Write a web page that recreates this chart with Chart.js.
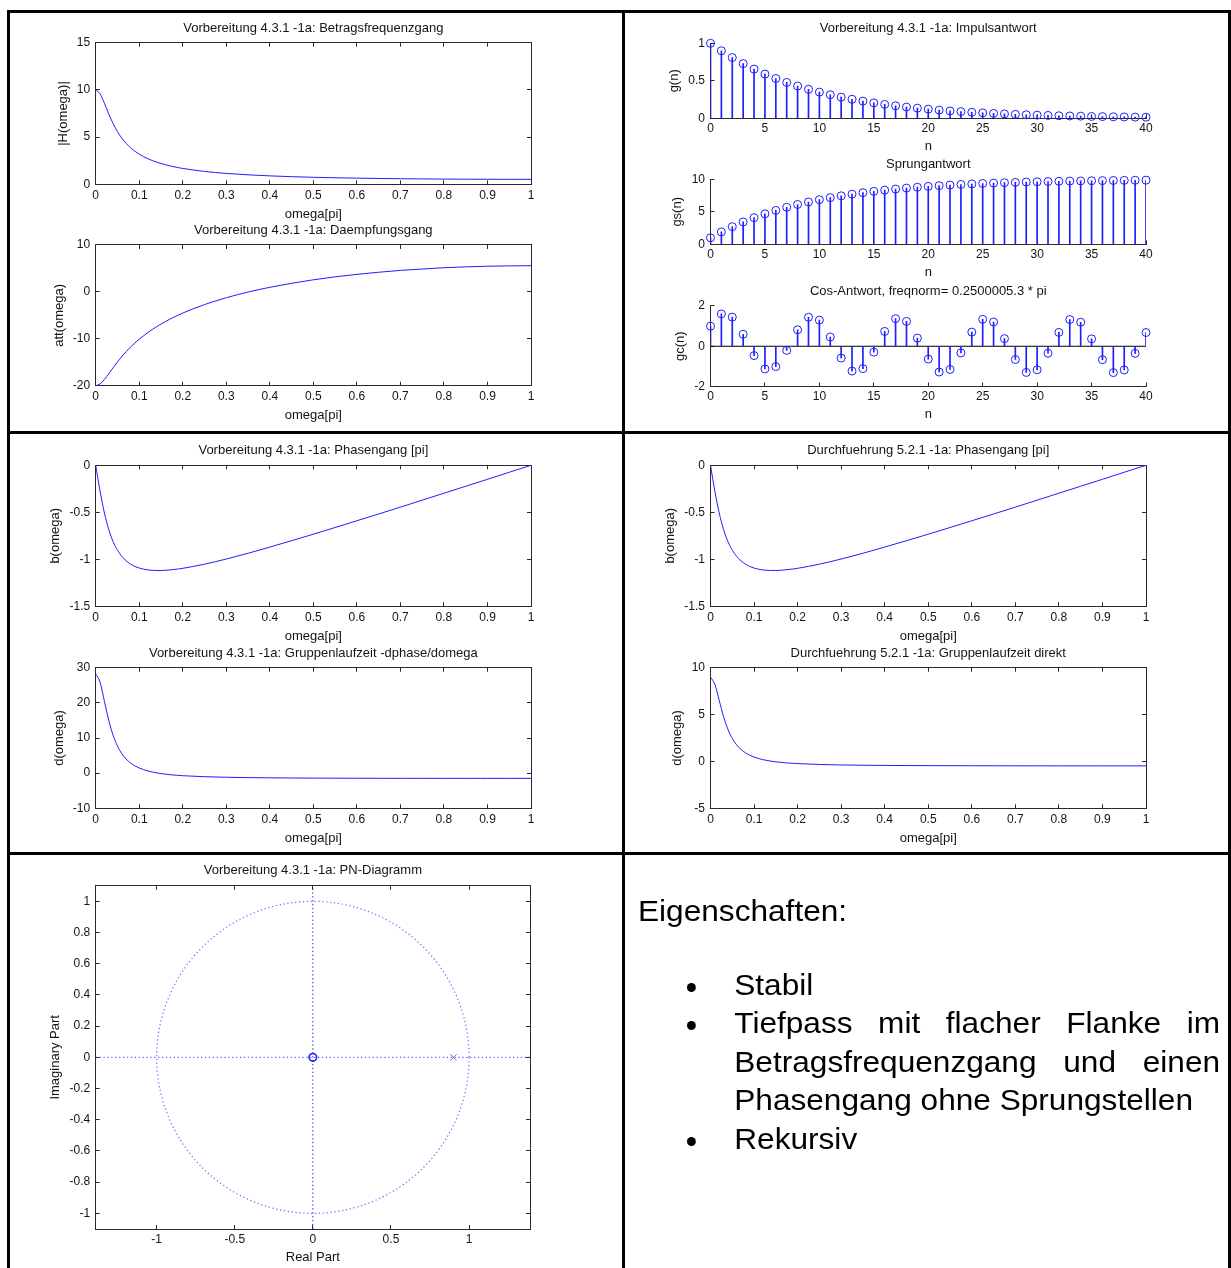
<!DOCTYPE html>
<html>
<head>
<meta charset="utf-8">
<script src="https://cdn.jsdelivr.net/npm/chart.js@4.4.1/dist/chart.umd.min.js"></script>
<style>
  html, body { margin: 0; padding: 0; background: #fff; }
  #page { position: relative; width: 1231px; height: 1268px; overflow: hidden; background: #fff; }
  .rule { position: absolute; background: #000; }
  canvas { position: absolute; }
  #notes { position: absolute; left: 638px; top: 0; width: 534px; transform: scaleX(1.09); transform-origin: 0 0;
           font-family: 'Liberation Sans', Arial, sans-serif; font-size: 29px; line-height: 38.5px; color: #000; }
  #notes .head { position: absolute; left: 0; top: 891.9px; white-space: nowrap; }
  #notes ul { position: absolute; left: 0; top: 965.6px; width: 534px; margin: 0; padding: 0; list-style: none; }
  #notes li { position: relative; padding-left: 88.3px; text-align: justify; }
  #notes li::before { content: ''; position: absolute; left: 44.5px; top: 17px; width: 8.5px; height: 9px;
                      border-radius: 50%; background: #000; }
</style>
</head>
<body>
<div id="page">
  <div class="rule" style="left:7px; top:10px; width:1224px; height:3px"></div>
  <div class="rule" style="left:7px; top:431px; width:1224px; height:3px"></div>
  <div class="rule" style="left:7px; top:852px; width:1224px; height:3px"></div>
  <div class="rule" style="left:7px; top:10px; width:3px; height:1258px"></div>
  <div class="rule" style="left:622px; top:10px; width:3px; height:1258px"></div>
  <div class="rule" style="left:1228px; top:10px; width:3px; height:1258px"></div>

  <div id="notes">
    <div class="head">Eigenschaften:</div>
    <ul>
      <li>Stabil</li>
      <li>Tiefpass mit flacher Flanke im Betragsfrequenzgang und einen Phasengang ohne Sprungstellen</li>
      <li>Rekursiv</li>
    </ul>
  </div>
</div>

<script>
// frequency grid (omega in units of pi)
const omega = [0, 0.01, 0.02, 0.03, 0.04, 0.05, 0.06, 0.07, 0.08, 0.09, 0.1, 0.11, 0.12, 0.13, 0.14, 0.15,
  0.16, 0.17, 0.18, 0.19, 0.2, 0.25, 0.3, 0.35, 0.4, 0.45, 0.5, 0.55, 0.6, 0.65, 0.7, 0.75, 0.8, 0.85, 0.9, 0.95, 1];

const betrag = [10, 9.583, 8.59, 7.456, 6.429, 5.576, 4.886, 4.33, 3.876, 3.503, 3.193, 2.931, 2.708, 2.515,
  2.348, 2.202, 2.073, 1.959, 1.856, 1.764, 1.681, 1.364, 1.153, 1.004, 0.893, 0.809, 0.743, 0.691, 0.65,
  0.617, 0.59, 0.57, 0.553, 0.541, 0.533, 0.528, 0.526];

const daempfung = [-20, -19.63, -18.68, -17.45, -16.16, -14.93, -13.78, -12.73, -11.77, -10.89, -10.08, -9.34,
  -8.65, -8.01, -7.41, -6.86, -6.33, -5.84, -5.37, -4.93, -4.51, -2.7, -1.24, -0.03, 0.98, 1.84, 2.58, 3.21,
  3.74, 4.19, 4.58, 4.88, 5.15, 5.34, 5.47, 5.55, 5.58];

const phaseVorb = [0, -0.274, -0.507, -0.683, -0.812, -0.903, -0.969, -1.016, -1.051, -1.076, -1.093, -1.105,
  -1.113, -1.117, -1.119, -1.119, -1.117, -1.113, -1.108, -1.103, -1.096, -1.052, -0.997, -0.936, -0.87,
  -0.802, -0.733, -0.662, -0.59, -0.518, -0.445, -0.371, -0.297, -0.223, -0.149, -0.074, 0];

const phaseDurch = [0, -0.274, -0.507, -0.683, -0.812, -0.903, -0.969, -1.016, -1.051, -1.076, -1.093, -1.105,
  -1.113, -1.117, -1.119, -1.119, -1.117, -1.113, -1.108, -1.103, -1.096, -1.052, -0.997, -0.936, -0.87,
  -0.802, -0.733, -0.662, -0.59, -0.518, -0.445, -0.371, -0.297, -0.223, -0.149, -0.074, 0];

const gruppeVorb = [28.27, 25.84, 20.45, 15.02, 10.77, 7.71, 5.55, 4.02, 2.91, 2.09, 1.47, 0.99, 0.62, 0.32,
  0.08, -0.12, -0.29, -0.43, -0.54, -0.64, -0.73, -1.01, -1.17, -1.27, -1.33, -1.38, -1.41, -1.43, -1.45,
  -1.46, -1.47, -1.47, -1.48, -1.48, -1.49, -1.49, -1.49];

const gruppeDurch = [9, 8.225, 6.51, 4.781, 3.427, 2.454, 1.768, 1.281, 0.927, 0.666, 0.468, 0.316, 0.196,
  0.101, 0.024, -0.039, -0.092, -0.136, -0.173, -0.204, -0.231, -0.323, -0.374, -0.404, -0.424, -0.438,
  -0.448, -0.455, -0.46, -0.464, -0.467, -0.469, -0.471, -0.472, -0.473, -0.474, -0.474];

// sample index n
const nIdx = [0, 1, 2, 3, 4, 5, 6, 7, 8, 9, 10, 11, 12, 13, 14, 15, 16, 17, 18, 19, 20,
  21, 22, 23, 24, 25, 26, 27, 28, 29, 30, 31, 32, 33, 34, 35, 36, 37, 38, 39, 40];

const impuls = [1, 0.9, 0.81, 0.729, 0.656, 0.59, 0.531, 0.478, 0.43, 0.387, 0.349, 0.314, 0.282, 0.254,
  0.229, 0.206, 0.185, 0.167, 0.15, 0.135, 0.122, 0.109, 0.098, 0.089, 0.08, 0.072, 0.065, 0.058, 0.052,
  0.047, 0.042, 0.038, 0.034, 0.031, 0.028, 0.025, 0.023, 0.02, 0.018, 0.016, 0.015];

const sprung = [1, 1.9, 2.71, 3.439, 4.095, 4.686, 5.217, 5.695, 6.126, 6.513, 6.862, 7.176, 7.458, 7.712,
  7.941, 8.147, 8.332, 8.499, 8.649, 8.784, 8.906, 9.015, 9.114, 9.202, 9.282, 9.354, 9.419, 9.477, 9.529,
  9.576, 9.618, 9.657, 9.691, 9.722, 9.75, 9.775, 9.797, 9.818, 9.836, 9.852, 9.867];

const cosAntwort = [1, 1.607, 1.446, 0.594, -0.465, -1.126, -1.013, -0.205, 0.816, 1.441, 1.297, 0.46,
  -0.586, -1.234, -1.111, -0.293, 0.736, 1.37, 1.233, 0.403, -0.638, -1.281, -1.153, -0.331, 0.702, 1.339,
  1.205, 0.378, -0.66, -1.301, -1.171, -0.347, 0.688, 1.326, 1.194, 0.367, -0.669, -1.309, -1.178, -0.353, 0.682];
const cosBaseline = [{ x: 0, y: 0 }, { x: 40, y: 0 }];

// pole-zero plot
const pnZeros = [{ x: 0, y: 0 }];
const pnPoles = [{ x: 0.9, y: 0 }];
const pnRealAxis = [{ x: -1.39, y: 0 }, { x: 1.39, y: 0 }];
const pnImagAxis = [{ x: 0, y: -1.1 }, { x: 0, y: 1.1 }];
const pnCircle = { cx: 0, cy: 0, r: 1 };

// tick labels
const omegaTicks = [0, 0.1, 0.2, 0.3, 0.4, 0.5, 0.6, 0.7, 0.8, 0.9, 1];
const nTicks = [0, 5, 10, 15, 20, 25, 30, 35, 40];
const betragTicks = [0, 5, 10, 15];
const daempfungTicks = [-20, -10, 0, 10];
const phaseTicks = [-1.5, -1, -0.5, 0];
const gruppeVorbTicks = [-10, 0, 10, 20, 30];
const gruppeDurchTicks = [-5, 0, 5, 10];
const impulsTicks = [0, 0.5, 1];
const sprungTicks = [0, 5, 10];
const cosTicks = [-2, 0, 2];
const reTicks = [-1, -0.5, 0, 0.5, 1];
const imTicks = [-1, -0.8, -0.6, -0.4, -0.2, 0, 0.2, 0.4, 0.6, 0.8, 1];

const FONT = "'Liberation Sans', Arial, Helvetica, sans-serif";
const TXT = '#141414';
const AXC = '#2a2a2a';
const BLUE = 'rgb(30,30,255)';
const TICK_PX = 12;
const LABEL_PX = 13;

Chart.defaults.font.family = FONT;

const pts = (xs, ys) => xs.map((x, i) => ({ x, y: ys[i] }));
const fmt = (v) => String(Math.round(v * 1000) / 1000);

function curve(xs, ys) {
  return { type: 'line', data: pts(xs, ys), borderColor: BLUE, borderWidth: 1, pointRadius: 0,
           cubicInterpolationMode: 'monotone', fill: false };
}

function stems(xs, ys) {
  return [
    { type: 'line', data: pts(xs, ys), showLine: false, pointStyle: 'circle', pointRadius: 4,
      pointBorderColor: BLUE, pointBackgroundColor: 'rgba(0,0,0,0)', pointBorderWidth: 1, clip: false, order: 0 },
    { type: 'bar', data: pts(xs, ys), backgroundColor: BLUE, barThickness: 1, order: 1 },
  ];
}

const unitCircle = {
  id: 'unitCircle',
  beforeDatasetsDraw(chart) {
    const { ctx, scales: { x, y } } = chart;
    const cx = x.getPixelForValue(pnCircle.cx);
    const cy = y.getPixelForValue(pnCircle.cy);
    const rx = x.getPixelForValue(pnCircle.cx + pnCircle.r) - cx;
    const ry = cy - y.getPixelForValue(pnCircle.cy + pnCircle.r);
    ctx.save();
    ctx.strokeStyle = 'rgba(60,60,255,0.75)';
    ctx.lineWidth = 1.2;
    ctx.setLineDash([1.3, 2.6]);
    ctx.beginPath();
    ctx.ellipse(cx, cy, rx, ry, 0, 0, Math.PI * 2);
    ctx.stroke();
    ctx.restore();
  }
};

const page = document.getElementById('page');

function plot(p) {
  const lh = LABEL_PX * 1.2;
  const titleY = p.box.t - (p.titleGap || 14.5);
  const xLabY = p.box.b + p.xLabGap;
  const left = Math.floor(p.yLabX - lh / 2 - 3);
  const top = Math.floor(titleY - lh / 2 - 2);
  const bottom = Math.ceil(xLabY + lh / 2 + 3);
  const right = Math.ceil(p.box.r + 22);

  const cv = document.createElement('canvas');
  cv.width = right - left;
  cv.height = bottom - top;
  cv.style.left = left + 'px';
  cv.style.top = top + 'px';
  cv.style.width = cv.width + 'px';
  cv.style.height = cv.height + 'px';
  page.appendChild(cv);

  const ML = p.box.l - left;
  const MB = bottom - p.box.b;
  const setTicks = (list) => (s) => { s.ticks = list.map((v) => ({ value: v })); };
  const grid = { drawOnChartArea: false, drawTicks: true, tickLength: -4, color: AXC, lineWidth: 1, offset: false };
  const border = { display: true, color: AXC, width: 1 };
  const tickFont = { family: FONT, size: TICK_PX };
  const labelFont = { family: FONT, size: LABEL_PX };

  const scales = {
    x: {
      type: 'linear', position: 'bottom', offset: false, min: p.x.min, max: p.x.max,
      afterBuildTicks: setTicks(p.x.ticks), afterFit: (s) => { s.height = MB; },
      ticks: { color: TXT, font: tickFont, padding: p.xPad, maxRotation: 0, autoSkip: false, callback: fmt },
      grid, border,
      title: { display: true, text: p.xLabel, color: TXT, font: labelFont, padding: { top: 0, bottom: 3 } },
    },
    y: {
      type: 'linear', position: 'left', min: p.y.min, max: p.y.max,
      afterBuildTicks: setTicks(p.y.ticks), afterFit: (s) => { s.width = ML; },
      ticks: { color: TXT, font: tickFont, padding: 9.5, autoSkip: false, callback: fmt },
      grid, border,
      title: { display: true, text: p.yLabel, color: TXT, font: labelFont,
               padding: { top: p.yLabX - lh / 2 - left, bottom: 0 } },
    },
  };
  if (p.boxed) {
    scales.x2 = {
      type: 'linear', position: 'top', offset: false, min: p.x.min, max: p.x.max,
      afterBuildTicks: setTicks(p.x.ticks), afterFit: (s) => { s.height = 0; },
      ticks: { display: false, autoSkip: false }, grid, border,
    };
    scales.y2 = {
      type: 'linear', position: 'right', min: p.y.min, max: p.y.max,
      afterBuildTicks: setTicks(p.y.ticks), afterFit: (s) => { s.width = 0; },
      ticks: { display: false, autoSkip: false }, grid, border,
    };
  }

  new Chart(cv, {
    type: 'line',
    data: { datasets: p.datasets },
    options: {
      responsive: false,
      animation: false,
      events: [],
      layout: { padding: { left: 0, right: right - p.box.r, top: titleY - lh / 2 - top, bottom: 0 } },
      plugins: {
        legend: { display: false },
        tooltip: { enabled: false },
        title: {
          display: true, text: p.title, fullSize: false, color: TXT,
          font: { family: FONT, size: LABEL_PX, weight: 'normal' },
          padding: { top: 0, bottom: p.box.t - titleY - lh / 2 },
        },
      },
      scales,
    },
    plugins: p.plugins || [],
  });
}

const L = 95.7, R = 531, RL = 710.5, RR = 1146;

plot({ box: { l: L, t: 42.7, r: R, b: 184.3 }, yLabX: 63, xPad: 8.1, xLabGap: 29, boxed: true,
  title: 'Vorbereitung 4.3.1 -1a: Betragsfrequenzgang', xLabel: 'omega[pi]', yLabel: '|H(omega)|',
  x: { min: 0, max: 1, ticks: omegaTicks }, y: { min: 0, max: 15, ticks: betragTicks },
  datasets: [curve(omega, betrag)] });

plot({ box: { l: L, t: 245, r: R, b: 385.7 }, yLabX: 59, xPad: 8.1, xLabGap: 29, boxed: true,
  title: 'Vorbereitung 4.3.1 -1a: Daempfungsgang', xLabel: 'omega[pi]', yLabel: 'att(omega)',
  x: { min: 0, max: 1, ticks: omegaTicks }, y: { min: -20, max: 10, ticks: daempfungTicks },
  datasets: [curve(omega, daempfung)] });

plot({ box: { l: L, t: 465.3, r: R, b: 606.3 }, yLabX: 55.6, xPad: 8.1, xLabGap: 29, boxed: true,
  title: 'Vorbereitung 4.3.1 -1a: Phasengang [pi]', xLabel: 'omega[pi]', yLabel: 'b(omega)',
  x: { min: 0, max: 1, ticks: omegaTicks }, y: { min: -1.5, max: 0, ticks: phaseTicks },
  datasets: [curve(omega, phaseVorb)] });

plot({ box: { l: L, t: 667.7, r: R, b: 808.3 }, yLabX: 59, xPad: 8.1, xLabGap: 29, boxed: true,
  title: 'Vorbereitung 4.3.1 -1a: Gruppenlaufzeit -dphase/domega', xLabel: 'omega[pi]', yLabel: 'd(omega)',
  x: { min: 0, max: 1, ticks: omegaTicks }, y: { min: -10, max: 30, ticks: gruppeVorbTicks },
  datasets: [curve(omega, gruppeVorb)] });

plot({ box: { l: RL, t: 43.3, r: RR, b: 118.3 }, yLabX: 674.5, xPad: 6.8, xLabGap: 27.5, titleGap: 15,
  title: 'Vorbereitung 4.3.1 -1a: Impulsantwort', xLabel: 'n', yLabel: 'g(n)',
  x: { min: 0, max: 40, ticks: nTicks }, y: { min: 0, max: 1, ticks: impulsTicks },
  datasets: stems(nIdx, impuls) });

plot({ box: { l: RL, t: 179.3, r: RR, b: 244.3 }, yLabX: 677.7, xPad: 6.8, xLabGap: 27.5,
  title: 'Sprungantwort', xLabel: 'n', yLabel: 'gs(n)',
  x: { min: 0, max: 40, ticks: nTicks }, y: { min: 0, max: 10, ticks: sprungTicks },
  datasets: stems(nIdx, sprung) });

plot({ box: { l: RL, t: 306, r: RR, b: 386.5 }, yLabX: 680.3, xPad: 6.8, xLabGap: 27.5,
  title: 'Cos-Antwort, freqnorm= 0.2500005.3 * pi', xLabel: 'n', yLabel: 'gc(n)',
  x: { min: 0, max: 40, ticks: nTicks }, y: { min: -2, max: 2, ticks: cosTicks },
  datasets: [...stems(nIdx, cosAntwort),
    { type: 'line', data: cosBaseline, borderColor: '#000', borderWidth: 1, pointRadius: 0, order: 2 }] });

plot({ box: { l: RL, t: 465.3, r: RR, b: 606.3 }, yLabX: 670.6, xPad: 8.1, xLabGap: 29, boxed: true,
  title: 'Durchfuehrung 5.2.1 -1a: Phasengang [pi]', xLabel: 'omega[pi]', yLabel: 'b(omega)',
  x: { min: 0, max: 1, ticks: omegaTicks }, y: { min: -1.5, max: 0, ticks: phaseTicks },
  datasets: [curve(omega, phaseDurch)] });

plot({ box: { l: RL, t: 667.7, r: RR, b: 808.3 }, yLabX: 677.7, xPad: 8.1, xLabGap: 29, boxed: true,
  title: 'Durchfuehrung 5.2.1 -1a: Gruppenlaufzeit direkt', xLabel: 'omega[pi]', yLabel: 'd(omega)',
  x: { min: 0, max: 1, ticks: omegaTicks }, y: { min: -5, max: 10, ticks: gruppeDurchTicks },
  datasets: [curve(omega, gruppeDurch)] });

plot({ box: { l: L, t: 885.7, r: 530, b: 1229 }, yLabX: 55.6, xPad: 7.8, xLabGap: 28, titleGap: 15,
  title: 'Vorbereitung 4.3.1 -1a: PN-Diagramm', xLabel: 'Real Part', yLabel: 'Imaginary Part',
  x: { min: -1.39, max: 1.39, ticks: reTicks }, y: { min: -1.1, max: 1.1, ticks: imTicks }, boxed: true,
  plugins: [unitCircle],
  datasets: [
    { data: pnRealAxis, borderColor: 'rgba(60,60,255,0.8)', borderWidth: 1.2, borderDash: [1.3, 2.6], pointRadius: 0 },
    { data: pnImagAxis, borderColor: 'rgb(20,20,255)', borderWidth: 1, borderDash: [1.3, 2.6], pointRadius: 0 },
    { data: pnZeros, showLine: false, pointStyle: 'circle', pointRadius: 3.8, pointBorderWidth: 1.6,
      pointBorderColor: BLUE, pointBackgroundColor: 'rgba(0,0,0,0)', clip: false },
    { data: pnPoles, showLine: false, pointStyle: 'crossRot', pointRadius: 4.5, pointBorderWidth: 1,
      pointBorderColor: 'rgba(70,70,255,0.8)', clip: false },
  ] });
</script>
</body>
</html>
